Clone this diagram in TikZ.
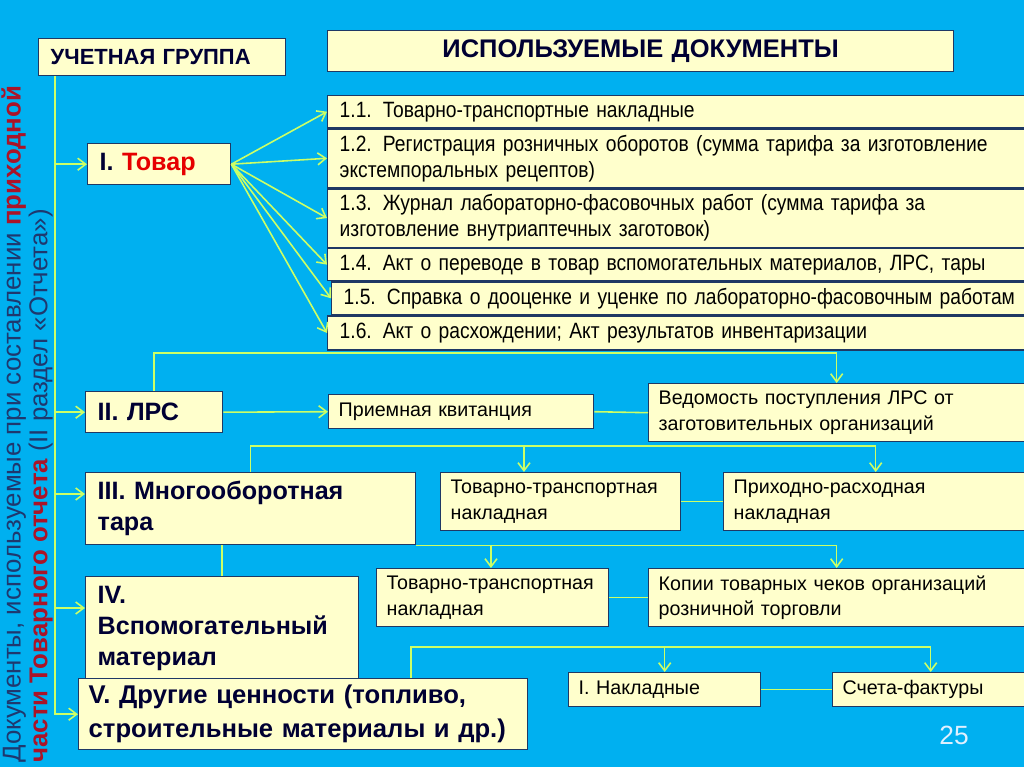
\documentclass[tikz,border=0pt]{standalone}
\usepackage{fontspec}
\setmainfont{Liberation Sans}
\newfontfamily\narrowfont{Liberation Sans}[FakeStretch=0.87,WordSpace=0.85]
\usetikzlibrary{arrows.meta,positioning}

\definecolor{slidebg}{RGB}{0,176,240}
\definecolor{boxfill}{RGB}{255,255,204}
\definecolor{boxline}{RGB}{31,56,100}
\definecolor{linkgreen}{RGB}{204,255,102}
\definecolor{headnavy}{RGB}{0,0,51}
\definecolor{tovarred}{RGB}{230,0,0}
\definecolor{sidered}{RGB}{170,20,40}
\definecolor{sideblue}{RGB}{31,56,110}
\definecolor{pagenum}{RGB}{225,240,255}

\tikzset{
  box/.style={draw=boxline, fill=boxfill, line width=0.8pt, anchor=north west,
    align=left, inner xsep=0.24cm, text=black},
  head/.style={box, font=\bfseries\fontsize{14.3}{17.5}\selectfont, text=headnavy},
  item/.style={box, font=\narrowfont\fontsize{12.6}{14.7}\selectfont},
  doc/.style={box, inner xsep=0.2cm, font=\fontsize{11.2}{14.7}\selectfont},
  link/.style={draw=linkgreen, line width=0.9pt},
  feed/.style={link, -{Straight Barb[length=1.6mm,width=2.4mm]}},
}

\begin{document}
\begin{tikzpicture}[x=0.02cm,y=-0.02cm]
  \useasboundingbox (0,0) rectangle (1024,767);
  \clip (0,0) rectangle (1024,767);
  \fill[slidebg] (0,0) rectangle (1024,767);

  % headers
  \node[head, font=\bfseries\fontsize{12.5}{14}\selectfont, text width=4.46cm, minimum height=0.74cm] (gruppa) at (38,38) {УЧЕТНАЯ ГРУППА};
  \node[head, font=\bfseries\fontsize{14.5}{16}\selectfont, text width=12.04cm, minimum height=0.82cm, align=center] (docs) at (327,30) {ИСПОЛЬЗУЕМЫЕ ДОКУМЕНТЫ};

  % documents for I
  \node[item, text width=13.72cm, minimum height=0.64cm] (d1) at (327,95) {1.1. Товарно-транспортные накладные};
  \node[item, text width=13.72cm, minimum height=1.10cm, below=0pt of d1.south west, anchor=north west] (d2) {1.2. Регистрация розничных оборотов (сумма тарифа за изготовление\\экстемпоральных рецептов)};
  \node[item, text width=13.72cm, minimum height=1.16cm, below=0pt of d2.south west, anchor=north west] (d3) {1.3. Журнал лабораторно-фасовочных работ (сумма тарифа за\\изготовление внутриаптечных заготовок)};
  \node[item, text width=13.72cm, minimum height=0.64cm, below=0pt of d3.south west, anchor=north west] (d4) {1.4. Акт о переводе в товар вспомогательных материалов, ЛРС, тары};
  \node[item, text width=13.72cm, minimum height=0.64cm, below=0pt of d4.south west, anchor=north west, xshift=0.08cm] (d5) {1.5. Справка о дооценке и уценке по лабораторно-фасовочным работам};
  \node[item, text width=13.72cm, minimum height=0.68cm, below=0pt of d5.south west, anchor=north west, xshift=-0.08cm] (d6) {1.6. Акт о расхождении; Акт результатов инвентаризации};

  % groups
  \node[head, text width=2.38cm, minimum height=0.82cm] (tovar) at (87,143) {I. \textcolor{tovarred}{Товар}};
  \node[head, text width=2.26cm, minimum height=0.82cm] (lrs) at (85,391) {II. ЛРС};
  \node[head, text width=6.12cm, minimum height=1.44cm] (tara) at (85,472) {III. Многооборотная\\тара};
  \node[head, text width=4.98cm, minimum height=2.08cm] (vspom) at (85,576) {IV.\\Вспомогательный\\материал};
  \node[head, font=\bfseries\fontsize{14.6}{19.3}\selectfont, inner xsep=0.2cm, text width=8.58cm, minimum height=1.42cm] (drugie) at (78,678) {V. Другие ценности (топливо,\\строительные материалы и др.)};

  % documents for II--V
  \node[doc, text width=4.9cm, minimum height=0.68cm] (kvit) at (328,394) {Приемная квитанция};
  \node[doc, text width=7.12cm, minimum height=1.16cm] (vedom) at (648,383) {Ведомость поступления ЛРС от\\заготовительных организаций};
  \node[doc, text width=4.4cm, minimum height=1.16cm] (ttn1) at (440,472) {Товарно-транспортная\\накладная};
  \node[doc, text width=5.68cm, minimum height=1.16cm] (prih) at (723,472) {Приходно-расходная\\накладная};
  \node[doc, text width=4.24cm, minimum height=1.16cm] (ttn2) at (376,568) {Товарно-транспортная\\накладная};
  \node[doc, text width=7.12cm, minimum height=1.16cm] (kopii) at (648,568) {Копии товарных чеков организаций\\розничной торговли};
  \node[doc, text width=3.44cm, minimum height=0.68cm] (nakl) at (568,672) {I. Накладные};
  \node[doc, text width=3.52cm, minimum height=0.68cm] (scheta) at (832,672) {Счета-фактуры};

  % side caption
  \node[rotate=90, anchor=north west, align=left, inner sep=0pt,
    font=\fontsize{14.7}{15.3}\selectfont] (side) at (1,763)
    {\textcolor{sideblue}{Документы, используемые при составлении }\textcolor{sidered}{\bfseries приходной}\\
     \textcolor{sidered}{\bfseries части Товарного отчета} \textcolor{sideblue}{(II раздел «Отчета»)}};

  \node[font=\fontsize{15}{15}\selectfont, text=pagenum] (page) at (954,735) {25};

  % spine
  \coordinate (spine) at ([xshift=0.34cm]gruppa.south west);
  \coordinate (in3) at ([yshift=-0.44cm]tara.north west);
  \coordinate (in4) at ([yshift=-0.64cm]vspom.north west);
  \draw[feed] (spine) |- (drugie.west);
  \draw[feed] (spine |- tovar.west) -- (tovar.west);
  \draw[feed] (spine |- lrs.west) -- (lrs.west);
  \draw[feed] (spine |- in3) -- (in3);
  \draw[feed] (spine |- in4) -- (in4);

  % I
  \foreach \i in {1,...,6}
    \draw[feed] (tovar.east) -- (d\i.west);

  % II
  \coordinate (b2) at (0,353);
  \draw[feed] (lrs.east) -- (kvit.west);
  \draw[link] (kvit.east) -- (vedom.west);
  \draw[link] (lrs.north) |- (vedom.north |- b2);
  \draw[feed] (vedom.north |- b2) -- (vedom.north);

  % III
  \coordinate (b3) at (0,446);
  \coordinate (t3) at ([xshift=1.68cm]ttn1.north west);
  \draw[link] (tara.north) |- (prih.north |- b3);
  \draw[feed] (t3 |- b3) -- (t3);
  \draw[feed] (prih.north |- b3) -- (prih.north);
  \draw[link] (ttn1.east) -- (prih.west);

  % IV
  \coordinate (t4) at ([xshift=2.3cm]ttn2.north west);
  \draw[link] (vspom.north) -- (vspom.north |- tara.south);
  \draw[link] (tara.south east) -- (kopii.north |- tara.south);
  \draw[feed] (t4 |- tara.south) -- (t4);
  \draw[feed] (kopii.north |- tara.south) -- (kopii.north);
  \draw[link] (ttn2.east) -- (kopii.west);

  % V
  \coordinate (b5) at (0,647);
  \coordinate (t5) at ([xshift=6.66cm]drugie.north west);
  \draw[link] (t5) |- (scheta.north |- b5);
  \draw[feed] (nakl.north |- b5) -- (nakl.north);
  \draw[feed] (scheta.north |- b5) -- (scheta.north);
  \draw[link] (nakl.east) -- (scheta.west);
\end{tikzpicture}
\end{document}
